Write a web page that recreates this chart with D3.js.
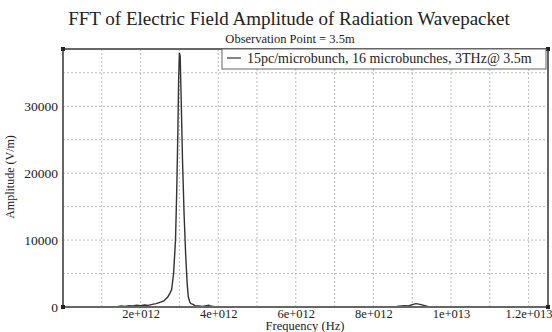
<!DOCTYPE html>
<html>
<head>
<meta charset="utf-8">
<script src="https://cdn.jsdelivr.net/npm/d3@7"></script>
<style>
    body { margin: 0; background: #fff; }
    svg text { font-family: "Liberation Serif", "DejaVu Serif", serif; fill: #222; }
    .grid line { stroke: #bbb; stroke-dasharray: 2,2; stroke-width: 1; }
    .axis path, .axis line { display: none; }
</style>
</head>
<body>
<div id="chart"></div>
<script>
// frequency in THz (scaled to Hz below), amplitude in V/m
const freqTHz = [0, 0.5, 1.0, 1.4, 1.5, 1.6, 1.7, 1.8, 1.9, 2.0, 2.1, 2.2, 2.3, 2.4, 2.5, 2.6, 2.7, 2.75, 2.8, 2.85,
    2.9, 2.93, 2.96, 2.98, 3.0, 3.02, 3.05, 3.08, 3.12, 3.16, 3.2, 3.23, 3.27, 3.3, 3.35, 3.4, 3.5, 3.6, 3.7, 3.75,
    3.8, 3.9, 4.0, 5.0, 6.0, 7.0, 8.0, 8.6, 8.8, 8.9, 9.0, 9.1, 9.2, 9.3, 9.4, 9.6, 10.5, 12.5];
const amplitude = [0, 10, 20, 60, 150, 100, 200, 150, 250, 200, 300, 250, 400, 500, 700, 900, 1500, 2000, 2600, 5000,
    10000, 17000, 26000, 34000, 38000, 37500, 30000, 22000, 14000, 8000, 3500, 1500, 700, 500, 400, 200, 150, 100, 200, 250,
    150, 50, 30, 20, 10, 20, 40, 80, 200, 150, 350, 500, 400, 250, 100, 50, 20, 10];

const xTickValues = [2e12, 4e12, 6e12, 8e12, 1e13, 1.2e13];
const xTickLabels = ["2e+012", "4e+012", "6e+012", "8e+012", "1e+013", "1.2e+013"];
const yTickValues = [0, 10000, 20000, 30000];
const yTickLabels = ["0", "10000", "20000", "30000"];

const seriesName = "15pc/microbunch, 16 microbunches, 3THz@ 3.5m";

const width = 552, height = 332;
const margin = { top: 49, right: 4, bottom: 25, left: 63 };

const data = freqTHz.map((f, i) => ({ f: f * 1e12, a: amplitude[i] }));

const svg = d3.select("#chart").append("svg")
    .attr("width", width)
    .attr("height", height);

const x = d3.scaleLinear().domain([0, 1.25e13]).range([margin.left, width - margin.right]);
const y = d3.scaleLinear().domain([0, 38560]).range([height - margin.bottom, margin.top]);

// grid
svg.append("g")
    .attr("class", "grid")
    .selectAll("line.v")
    .data(d3.range(1, 13).map(d => d * 1e12))
    .enter().append("line")
    .attr("x1", d => x(d)).attr("x2", d => x(d))
    .attr("y1", y(0)).attr("y2", margin.top);

svg.append("g")
    .attr("class", "grid")
    .selectAll("line.h")
    .data(d3.range(1, 8).map(d => d * 5000))
    .enter().append("line")
    .attr("x1", margin.left).attr("x2", width - margin.right)
    .attr("y1", d => y(d)).attr("y2", d => y(d));

// axes (labels only)
svg.append("g")
    .attr("class", "x axis")
    .attr("transform", "translate(0," + (height - margin.bottom) + ")")
    .call(d3.axisBottom(x).tickValues(xTickValues).tickSize(0).tickPadding(0)
        .tickFormat((d, i) => xTickLabels[i]))
    .selectAll("text")
    .attr("dy", null)
    .attr("y", 10.5)
    .style("font-size", "12.5px")
    .style("font-family", "Liberation Serif");

svg.append("g")
    .attr("class", "y axis")
    .attr("transform", "translate(" + margin.left + ",0)")
    .call(d3.axisLeft(y).tickValues(yTickValues).tickSize(0).tickPadding(5)
        .tickFormat((d, i) => yTickLabels[i]))
    .selectAll("text")
    .style("font-size", "13.5px")
    .style("font-family", "Liberation Serif");

// data line
const line = d3.line()
    .x(d => x(d.f))
    .y(d => y(d.a));

svg.append("path")
    .datum(data)
    .attr("fill", "none")
    .attr("stroke", "#333")
    .attr("stroke-width", 1.4)
    .attr("d", line);

// frame
svg.append("rect")
    .attr("x", margin.left)
    .attr("y", margin.top)
    .attr("width", width - margin.left - margin.right)
    .attr("height", height - margin.top - margin.bottom)
    .attr("fill", "none")
    .attr("stroke", "#666")
    .attr("stroke-width", 2);

[[margin.left, margin.top], [width - margin.right, margin.top],
 [margin.left, height - margin.bottom], [width - margin.right, height - margin.bottom]].forEach(p => {
    svg.append("rect")
        .attr("x", p[0] - 2).attr("y", p[1] - 2)
        .attr("width", 4).attr("height", 4)
        .attr("fill", "#222");
});

// legend
const legend = svg.append("g");
legend.append("rect")
    .attr("x", 222).attr("y", margin.top)
    .attr("width", 324).attr("height", 20)
    .attr("fill", "#fff")
    .attr("stroke", "#666")
    .attr("stroke-width", 1);
legend.append("line")
    .attr("x1", 227).attr("x2", 241)
    .attr("y1", 58).attr("y2", 58)
    .attr("stroke", "#333").attr("stroke-width", 1.2);
legend.append("text")
    .attr("x", 247).attr("y", 63)
    .style("font-size", "14px")
    .text(seriesName);

// titles
svg.append("text")
    .attr("x", 289).attr("y", 25)
    .attr("text-anchor", "middle")
    .style("font-size", "19px")
    .text("FFT of Electric Field Amplitude of Radiation Wavepacket");

svg.append("text")
    .attr("x", 290).attr("y", 43)
    .attr("text-anchor", "middle")
    .style("font-size", "12.5px")
    .text("Observation Point = 3.5m");

svg.append("text")
    .attr("x", 305).attr("y", 330)
    .attr("text-anchor", "middle")
    .style("font-size", "12.5px")
    .text("Frequency (Hz)");

svg.append("text")
    .attr("transform", "translate(14,177) rotate(-90)")
    .attr("text-anchor", "middle")
    .style("font-size", "12px")
    .text("Amplitude (V/m)");
</script>
</body>
</html>
